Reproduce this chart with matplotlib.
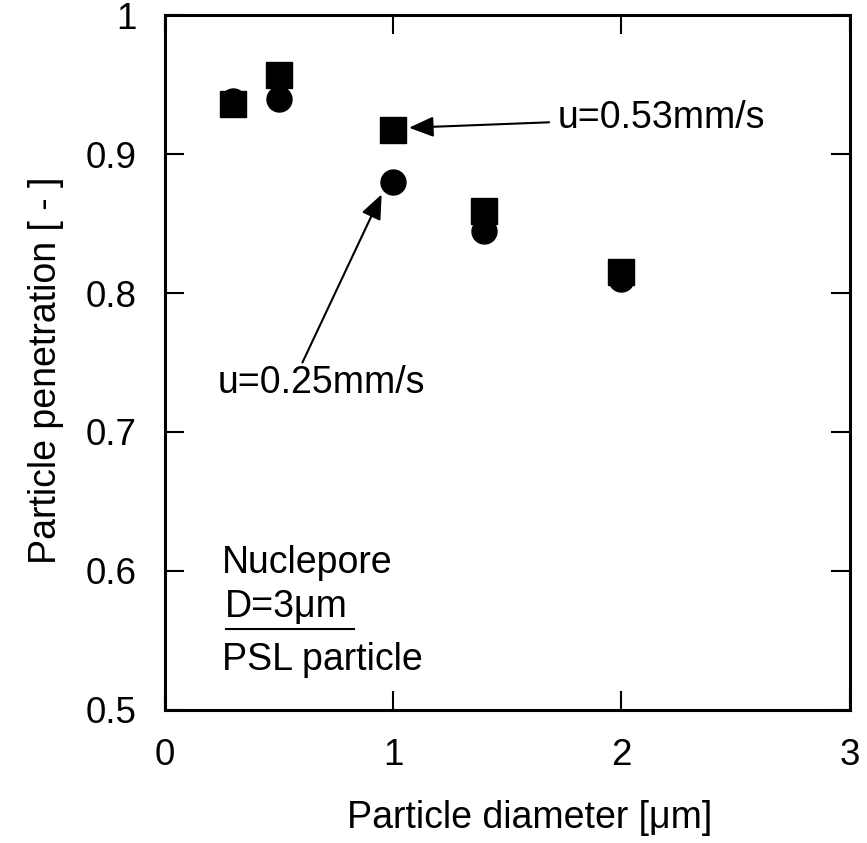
import matplotlib
matplotlib.use("Agg")
import matplotlib.pyplot as plt

plt.rcParams["font.family"] = ["Liberation Sans", "DejaVu Sans"]

# === Dados ===
diam = [0.3, 0.5, 1.0, 1.4, 2.0]
pen_025 = [0.938, 0.940, 0.880, 0.845, 0.810]   # u=0.25mm/s (círculos)
pen_053 = [0.936, 0.957, 0.917, 0.859, 0.815]   # u=0.53mm/s (quadrados)

xticks = [0, 1, 2, 3]
xticklabels = ["0", "1", "2", "3"]
yticks = [0.5, 0.6, 0.7, 0.8, 0.9, 1.0]
yticklabels = ["0.5", "0.6", "0.7", "0.8", "0.9", "1"]

fig = plt.figure(figsize=(8.67, 8.43), dpi=100)
ax = fig.add_axes([0.190, 0.158, 0.790, 0.824])

ax.plot(diam, pen_025, "o", color="black", markersize=18, linestyle="none")
ax.plot(diam, pen_053, "s", color="black", markersize=18.5, linestyle="none")

ax.set_xlim(0, 3)
ax.set_ylim(0.5, 1.0)
ax.set_xticks(xticks)
ax.set_xticklabels(xticklabels)
ax.set_yticks(yticks)
ax.set_yticklabels(yticklabels)
ax.tick_params(direction="in", length=14, width=1.5, labelsize=26.5,
               top=True, right=True)
ax.tick_params(axis="x", pad=20)
ax.tick_params(axis="y", pad=20)
for sp in ax.spines.values():
    sp.set_linewidth(2.2)

ax.set_xlabel("Particle diameter [μm]", fontsize=27, labelpad=20, x=0.533)
ax.set_ylabel("Particle penetration [ - ]", fontsize=27, labelpad=16, y=0.489)

# === Anotações ===
ax.annotate("u=0.53mm/s", xy=(1.07, 0.919), xytext=(1.72, 0.926),
            fontsize=27, va="center", ha="left",
            arrowprops=dict(arrowstyle="-|>,head_length=0.6,head_width=0.25",
                            color="black", lw=1.5,
                            mutation_scale=25, shrinkA=4, shrinkB=0))
ax.annotate("u=0.25mm/s", xy=(0.95, 0.871), xytext=(0.23, 0.735),
            fontsize=27, va="center", ha="left",
            arrowprops=dict(arrowstyle="-|>,head_length=0.6,head_width=0.25",
                            color="black", lw=1.5,
                            mutation_scale=25, shrinkA=0, shrinkB=0,
                            relpos=(0.40, 0.95)))

ax.text(0.25, 0.606, "Nuclepore", fontsize=27, va="center", ha="left")
ax.text(0.265, 0.574, "D=3μm", fontsize=27, va="center", ha="left")
ax.plot([0.27, 0.83], [0.558, 0.558], color="black", lw=1.5)
ax.text(0.25, 0.536, "PSL particle", fontsize=27, va="center", ha="left")

fig.savefig("out.png", dpi=100)
